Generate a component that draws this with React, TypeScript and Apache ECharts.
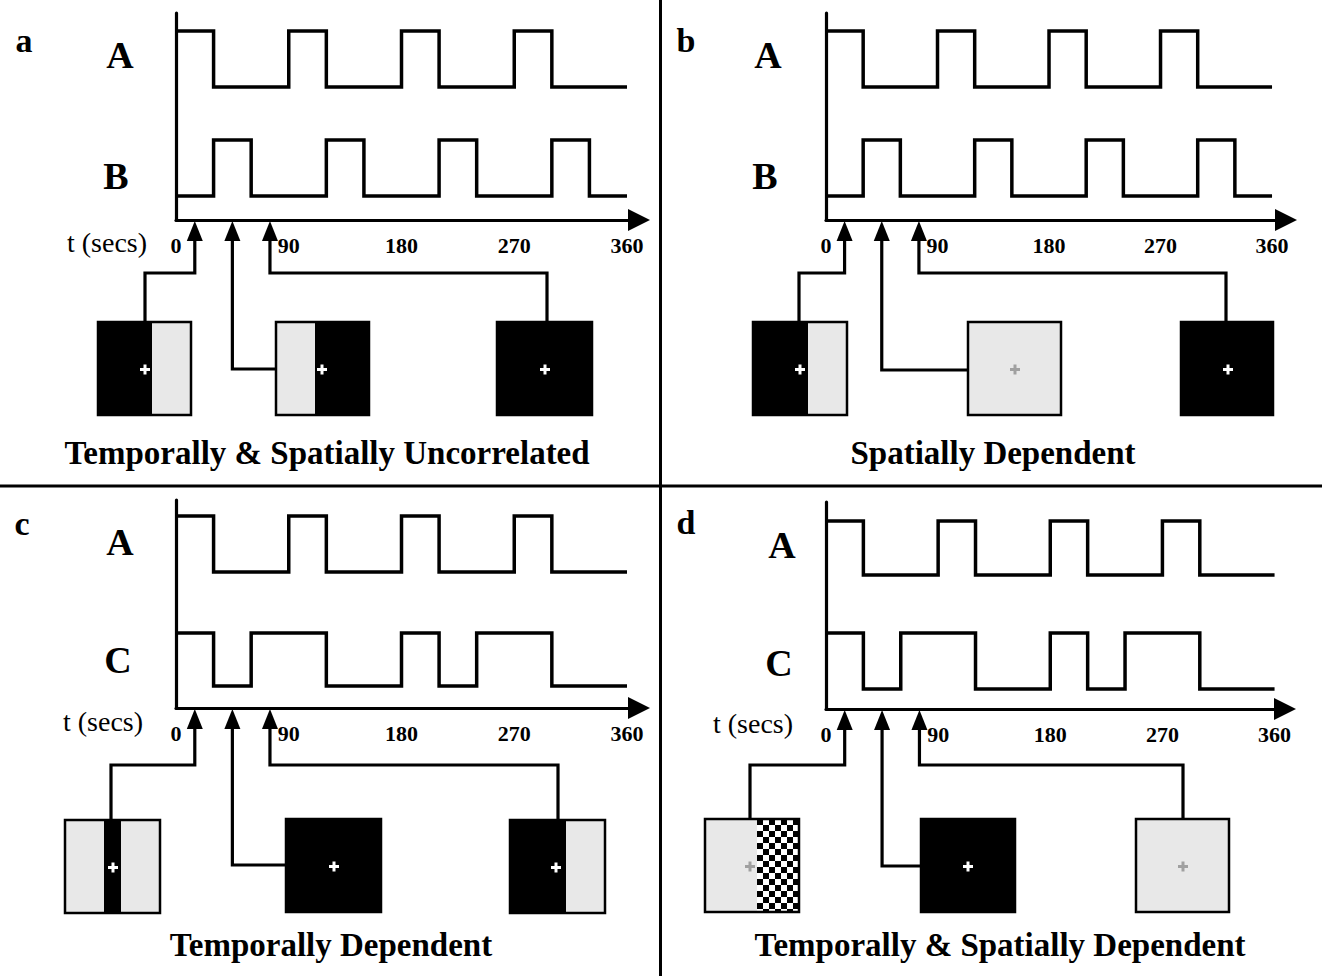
import React, { useEffect, useRef } from 'react';
import * as echarts from 'echarts';

// ---------- data ----------
const timeBreaks = [0, 30, 60, 90, 120, 150, 180, 210, 240, 270, 300, 330, 360];
const signalA = [1, 0, 0, 1, 0, 0, 1, 0, 0, 1, 0, 0, 0];
const signalB = [0, 1, 0, 0, 1, 0, 0, 1, 0, 0, 1, 0, 0];
const signalC = [1, 0, 1, 1, 0, 0, 1, 0, 1, 1, 0, 0, 0];
const xTickLabels = [0, 90, 180, 270, 360];
const arrowTimes = [15, 45, 75];
const panelLetters = ['a', 'b', 'c', 'd'];
const laneNames = [['A', 'B'], ['A', 'B'], ['A', 'C'], ['A', 'C']];
const panelSignals = [[signalA, signalB], [signalA, signalB], [signalA, signalC], [signalA, signalC]];
const captions = [
  'Temporally & Spatially Uncorrelated',
  'Spatially Dependent',
  'Temporally Dependent',
  'Temporally & Spatially Dependent',
];
const timeAxisName = 't (secs)';

// ---------- layout (pixels) ----------
type Pt = [number | 'a', number];
interface Box { x: number; y: number; w: number; h: number; parts: [string, number][]; plus: [number, string] }
interface Panel {
  left: number; top: number; axisY: number; pxPerSec: number; tipX: number;
  lanes: [number, number][]; letter: [number, number]; laneLabels: [number, number][];
  tLabel: [number, number] | null; caption: [number, number]; boxes: Box[]; routes: Pt[][];
}
const LAYOUT: Panel[] = [
  {
    left: 176, top: 13, axisY: 220, pxPerSec: 1.2528, tipX: 650,
    lanes: [[87, 31], [196, 140]], letter: [24, 40], laneLabels: [[120, 55], [116, 176]],
    tLabel: [107, 242], caption: [327, 453],
    boxes: [
      { x: 98, y: 322, w: 93, h: 93, parts: [['k', 54], ['s', 39]], plus: [145, '#fff'] },
      { x: 276, y: 322, w: 93, h: 93, parts: [['s', 39], ['k', 54]], plus: [322, '#fff'] },
      { x: 497, y: 322, w: 95, h: 93, parts: [['k', 95]], plus: [545, '#fff'] },
    ],
    routes: [
      [['a', 273], [145, 273], [145, 322]],
      [['a', 369], [276, 369]],
      [['a', 273], [547, 273], [547, 322]],
    ],
  },
  {
    left: 826, top: 13, axisY: 220, pxPerSec: 1.239, tipX: 1297,
    lanes: [[87, 31], [196, 140]], letter: [686, 40], laneLabels: [[768, 55], [765, 176]],
    tLabel: null, caption: [993, 453],
    boxes: [
      { x: 753, y: 322, w: 94, h: 93, parts: [['k', 55], ['s', 39]], plus: [800, '#fff'] },
      { x: 968, y: 322, w: 93, h: 93, parts: [['s', 93]], plus: [1015, '#a0a0a0'] },
      { x: 1181, y: 322, w: 92, h: 93, parts: [['k', 92]], plus: [1228, '#fff'] },
    ],
    routes: [
      [['a', 273], [799, 273], [799, 322]],
      [['a', 370], [968, 370]],
      [['a', 273], [1226, 273], [1226, 322]],
    ],
  },
  {
    left: 176, top: 500, axisY: 708, pxPerSec: 1.2528, tipX: 650,
    lanes: [[572, 516], [686, 633]], letter: [22, 523], laneLabels: [[120, 542], [118, 660]],
    tLabel: [103, 721], caption: [331, 945],
    boxes: [
      { x: 65, y: 820, w: 95, h: 93, parts: [['s', 39], ['k', 17], ['s', 39]], plus: [113, '#fff'] },
      { x: 286, y: 819, w: 95, h: 93, parts: [['k', 95]], plus: [334, '#fff'] },
      { x: 510, y: 820, w: 95, h: 93, parts: [['k', 56], ['s', 39]], plus: [556, '#fff'] },
    ],
    routes: [
      [['a', 765], [111, 765], [111, 820]],
      [['a', 865], [286, 865]],
      [['a', 765], [558, 765], [558, 820]],
    ],
  },
  {
    left: 826, top: 502, axisY: 709, pxPerSec: 1.246, tipX: 1296,
    lanes: [[575, 521], [689, 633]], letter: [686, 522], laneLabels: [[782, 545], [779, 663]],
    tLabel: [753, 723], caption: [1000, 945],
    boxes: [
      { x: 705, y: 819, w: 94, h: 93, parts: [['s', 52], ['c', 42]], plus: [750, '#a0a0a0'] },
      { x: 921, y: 819, w: 94, h: 93, parts: [['k', 94]], plus: [968, '#fff'] },
      { x: 1136, y: 819, w: 93, h: 93, parts: [['s', 93]], plus: [1183, '#a0a0a0'] },
    ],
    routes: [
      [['a', 765], [750, 765], [750, 819]],
      [['a', 866], [921, 866]],
      [['a', 765], [1183, 765], [1183, 819]],
    ],
  },
];

const SERIF = '"Liberation Serif", "DejaVu Serif", serif';
const STIPPLE = '#e8e8e8';
const ARROW_LEN = 22;

function buildBox(b: Box): any[] {
  const els: any[] = [];
  let cx = b.x;
  b.parts.forEach(([kind, w]) => {
    if (kind === 'k') {
      els.push({ type: 'rect', shape: { x: cx, y: b.y, width: w, height: b.h }, style: { fill: '#000' } });
    } else if (kind === 's') {
      els.push({ type: 'rect', shape: { x: cx, y: b.y, width: w, height: b.h }, style: { fill: STIPPLE } });
    } else if (kind === 'c') {
      els.push({ type: 'rect', shape: { x: cx, y: b.y, width: w, height: b.h }, style: { fill: '#fff' } });
      const cell = 6;
      for (let r = 0; r * cell < b.h; r++) {
        for (let c = 0; c * cell < w; c++) {
          if ((r + c) % 2 === 0) {
            const xx = cx + c * cell;
            const yy = b.y + r * cell;
            els.push({
              type: 'rect',
              shape: { x: xx, y: yy, width: Math.min(cell, cx + w - xx), height: Math.min(cell, b.y + b.h - yy) },
              style: { fill: '#000' },
            });
          }
        }
      }
    }
    cx += w;
  });
  els.push({ type: 'rect', shape: { x: b.x, y: b.y, width: b.w, height: b.h }, style: { fill: null, stroke: '#000', lineWidth: 2.5 } });
  const [px, pc] = b.plus;
  const py = b.y + b.h / 2 + 1;
  els.push({ type: 'rect', shape: { x: px - 5, y: py - 1.5, width: 10, height: 3 }, style: { fill: pc } });
  els.push({ type: 'rect', shape: { x: px - 1.5, y: py - 5, width: 3, height: 10 }, style: { fill: pc } });
  return els;
}

function text(t: string, x: number, y: number, size: number, weight: string): any {
  return {
    type: 'text', x, y,
    style: { text: t, fill: '#000', fontFamily: SERIF, fontSize: size, fontWeight: weight, textAlign: 'center', textVerticalAlign: 'middle' },
  };
}

function buildOption(): any {
  const grid: any[] = [];
  const xAxis: any[] = [];
  const yAxis: any[] = [];
  const series: any[] = [];
  const graphic: any[] = [];

  LAYOUT.forEach((L, p) => {
    const lineEnd = L.tipX - ARROW_LEN / 2;
    const width = lineEnd - L.left;
    const height = L.axisY - L.top;
    grid.push({ left: L.left, top: L.top, width, height, containLabel: false });
    xAxis.push({
      type: 'value', gridIndex: p, min: 0, max: width / L.pxPerSec, interval: 90,
      axisLine: { show: true, onZero: false, symbol: ['none', 'triangle'], symbolSize: [22, ARROW_LEN], lineStyle: { color: '#000', width: 3.2 } },
      axisTick: { show: false }, splitLine: { show: false },
      axisLabel: {
        show: true, showMaxLabel: false, margin: 14, color: '#000', fontFamily: SERIF, fontWeight: 'bold', fontSize: 22,
        formatter: (v: number) => (xTickLabels.indexOf(v) >= 0 ? String(v) : ''),
      },
    });
    L.lanes.forEach(([p0, p1], li) => {
      const u = p0 - p1;
      yAxis.push({
        type: 'value', gridIndex: p, position: 'left',
        min: -(L.axisY - p0) / u, max: (p0 - L.top) / u,
        axisLine: { show: li === 0, onZero: false, lineStyle: { color: '#000', width: 3.2 } },
        axisTick: { show: false }, axisLabel: { show: false }, splitLine: { show: false },
      });
      const vals = panelSignals[p][li];
      series.push({
        type: 'line', xAxisIndex: p, yAxisIndex: yAxis.length - 1, step: 'end', symbol: 'none',
        lineStyle: { color: '#000', width: 3.5, join: 'miter' }, silent: true,
        data: timeBreaks.map((t, i) => [t, vals[i]]),
      });
    });
    const yIdx = yAxis.length - 2;
    series.push({
      type: 'custom', xAxisIndex: p, yAxisIndex: yIdx, silent: true, clip: false,
      data: arrowTimes.map((t) => [t, 0]),
      renderItem: (params: any, api: any) => {
        const x = api.coord([api.value(0), 0])[0];
        const tipY = L.axisY + 1;
        const baseY = L.axisY + 21;
        const route = L.routes[params.dataIndex];
        const pts = [[x, baseY - 1], ...route.map(([rx, ry]) => [rx === 'a' ? x : rx, ry])];
        return {
          type: 'group',
          children: [
            { type: 'polyline', shape: { points: pts }, style: { stroke: '#000', lineWidth: 3.2, fill: null, lineJoin: 'miter' } },
            { type: 'polygon', shape: { points: [[x, tipY], [x - 8, baseY], [x + 8, baseY]] }, style: { fill: '#000' } },
          ],
        };
      },
    });

    graphic.push(text(panelLetters[p], L.letter[0], L.letter[1], 34, 'bold'));
    L.laneLabels.forEach(([lx, ly], li) => graphic.push(text(laneNames[p][li], lx, ly, 38, 'bold')));
    if (L.tLabel) graphic.push(text(timeAxisName, L.tLabel[0], L.tLabel[1], 28, 'normal'));
    graphic.push(text(captions[p], L.caption[0], L.caption[1], 33, 'bold'));
    L.boxes.forEach((b) => graphic.push(...buildBox(b)));
  });

  graphic.push({ type: 'line', shape: { x1: 660.5, y1: 0, x2: 660.5, y2: 976 }, style: { stroke: '#000', lineWidth: 3 } });
  graphic.push({ type: 'line', shape: { x1: 0, y1: 486, x2: 1322, y2: 486 }, style: { stroke: '#000', lineWidth: 3 } });

  return { animation: false, backgroundColor: '#fff', grid, xAxis, yAxis, series, graphic: { elements: graphic } };
}

export default function App() {
  const ref = useRef<HTMLDivElement>(null);
  useEffect(() => {
    document.body.style.margin = '0';
    const chart = echarts.init(ref.current!, null, { renderer: 'svg' });
    chart.setOption(buildOption());
    return () => chart.dispose();
  }, []);
  return <div ref={ref} style={{ width: 1322, height: 976 }} />;
}
